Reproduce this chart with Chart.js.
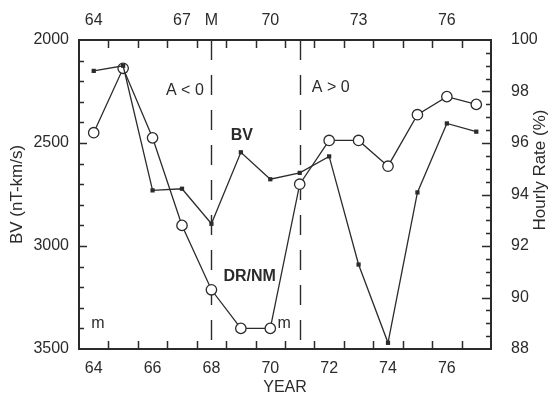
<!DOCTYPE html>
<html lang="en">
<head>
<meta charset="UTF-8">
<title>BV and DR/NM Hourly Rate</title>
<script src="https://cdn.jsdelivr.net/npm/chart.js"></script>
<style>
    html, body { margin: 0; padding: 0; background: #fff; }
    #wrap { width: 548px; height: 394px; }
</style>
</head>
<body>
<div id="wrap"><canvas id="myChart" width="548" height="394"></canvas></div>
<script>
    // values
    const years = [64, 65, 66, 67, 68, 69, 70, 71, 72, 73, 74, 75, 76, 77];
    const bvValues = [2150, 2125, 2730, 2722, 2892, 2545, 2676, 2645, 2565, 3090, 3470, 2740, 2405, 2445];
    const hourlyRate = [96.4, 98.9, 96.2, 92.8, 90.3, 88.8, 88.8, 94.4, 96.1, 96.1, 95.1, 97.1, 97.8, 97.5];

    const bottomTicks = [64, 66, 68, 70, 72, 74, 76];
    const topTicks = [64, 67, 68, 70, 73, 76];
    const topTickText = ['64', '67', 'M', '70', '73', '76'];
    const leftTicks = [2000, 2500, 3000, 3500];
    const rightTicks = [88, 90, 92, 94, 96, 98, 100];
    const boundaryYears = [68, 71];

    const ink = '#2b2b2b';
    const fontFamily = '"Liberation Sans", Arial, sans-serif';
    const tickFont = { family: fontFamily, size: 16 };

    // small inward tick marks, dashed boundaries, notes and axis titles
    const decorations = {
        id: 'decorations',
        beforeDatasetsDraw(chart) {
            const ctx = chart.ctx;
            const a = chart.chartArea;
            const x = chart.scales.x;
            ctx.save();
            ctx.strokeStyle = ink;
            ctx.lineWidth = 1.4;
            ctx.setLineDash([20, 15]);
            boundaryYears.forEach(yr => {
                const px = Math.round(x.getPixelForValue(yr)) + 0.5;
                ctx.beginPath();
                ctx.moveTo(px, a.top);
                ctx.lineTo(px, a.bottom);
                ctx.stroke();
            });
            ctx.restore();
        },
        afterDraw(chart) {
            const ctx = chart.ctx;
            const a = chart.chartArea;
            const x = chart.scales.x;
            const y = chart.scales.y;
            const y2 = chart.scales.y2;
            ctx.save();
            ctx.strokeStyle = ink;
            ctx.lineWidth = 1.5;
            ctx.beginPath();
            for (let v = 64.5; v < 77.5; v += 1) {
                const px = Math.round(x.getPixelForValue(v)) + 0.5;
                ctx.moveTo(px, a.bottom);
                ctx.lineTo(px, a.bottom - 8);
                ctx.moveTo(px, a.top);
                ctx.lineTo(px, a.top + 8);
            }
            for (let v = 2100; v < 3500; v += 100) {
                const py = Math.round(y.getPixelForValue(v)) + 0.5;
                ctx.moveTo(a.left, py);
                ctx.lineTo(a.left + (v % 500 === 0 ? 8 : 5), py);
            }
            for (let v = 88.5; v < 100; v += 0.5) {
                const py = Math.round(y2.getPixelForValue(v)) + 0.5;
                ctx.moveTo(a.right, py);
                ctx.lineTo(a.right - (v % 2 === 0 ? 9 : 5), py);
            }
            ctx.stroke();

            ctx.fillStyle = ink;
            ctx.textBaseline = 'middle';
            const notes = [
                { text: 'A < 0', yr: 67.74, v: 2248, align: 'right', bold: false },
                { text: 'A > 0', yr: 71.41, v: 2231, align: 'left', bold: false },
                { text: 'BV', yr: 69.03, v: 2466, align: 'center', bold: true },
                { text: 'DR/NM', yr: 69.3, v: 3149, align: 'center', bold: true },
                { text: 'm', yr: 64.14, v: 3379, align: 'center', bold: false },
                { text: 'm', yr: 70.47, v: 3379, align: 'center', bold: false }
            ];
            notes.forEach(n => {
                ctx.font = (n.bold ? 'bold ' : '') + '16px ' + fontFamily;
                ctx.textAlign = n.align;
                ctx.fillText(n.text, x.getPixelForValue(n.yr), y.getPixelForValue(n.v));
            });

            ctx.font = '16px ' + fontFamily;
            ctx.textAlign = 'center';
            ctx.fillText('YEAR', (a.left + a.right) / 2, 388);

            ctx.font = '17px ' + fontFamily;
            ctx.translate(17, (a.top + a.bottom) / 2);
            ctx.rotate(-Math.PI / 2);
            ctx.fillText('BV (nT-km/s)', 0, 0);
            ctx.setTransform(1, 0, 0, 1, 0, 0);
            ctx.translate(540, 170);
            ctx.rotate(-Math.PI / 2);
            ctx.fillText('Hourly Rate (%)', 0, 0);
            ctx.restore();
        }
    };

    function axisBase(extra) {
        return Object.assign({
            type: 'linear',
            grid: { display: false, drawTicks: false, tickLength: 0 },
            border: { display: true, width: 2, color: ink },
            title: { display: false }
        }, extra);
    }

    const plain = v => String(v);

    const ctx = document.getElementById('myChart').getContext('2d');
    const myChart = new Chart(ctx, {
        type: 'line',
        data: {
            datasets: [{
                label: 'BV',
                data: years.map((yr, i) => ({ x: yr, y: bvValues[i] })),
                xAxisID: 'x',
                yAxisID: 'y',
                borderColor: ink,
                borderWidth: 1.3,
                pointStyle: 'rect',
                pointRadius: 3,
                pointBackgroundColor: ink,
                pointBorderWidth: 0,
                tension: 0,
                order: 0
            }, {
                label: 'DR/NM',
                data: years.map((yr, i) => ({ x: yr, y: hourlyRate[i] })),
                xAxisID: 'x',
                yAxisID: 'y2',
                borderColor: ink,
                borderWidth: 1.3,
                pointStyle: 'circle',
                pointRadius: 5.2,
                pointBackgroundColor: '#fff',
                pointBorderColor: ink,
                pointBorderWidth: 1.3,
                tension: 0,
                order: 1
            }]
        },
        options: {
            responsive: false,
            animation: false,
            layout: { padding: 0 },
            plugins: { legend: { display: false }, tooltip: { enabled: false } },
            scales: {
                x: axisBase({
                    position: 'bottom', min: 63.5, max: 77.5,
                    afterBuildTicks: s => { s.ticks = bottomTicks.map(v => ({ value: v })); },
                    afterFit: s => { s.height = 45; },
                    ticks: { font: tickFont, color: ink, padding: 10, maxRotation: 0, autoSkip: false, callback: plain }
                }),
                x2: axisBase({
                    position: 'top', min: 63.5, max: 77.5,
                    afterBuildTicks: s => { s.ticks = topTicks.map(v => ({ value: v })); },
                    afterFit: s => { s.height = 40; },
                    ticks: {
                        font: tickFont, color: ink, padding: 10, maxRotation: 0, autoSkip: false,
                        callback: v => topTickText[topTicks.indexOf(v)]
                    }
                }),
                y: axisBase({
                    position: 'left', min: 2000, max: 3500, reverse: true,
                    afterBuildTicks: s => { s.ticks = leftTicks.map(v => ({ value: v })); },
                    afterFit: s => { s.width = 79; },
                    ticks: { font: tickFont, color: ink, padding: 10, callback: plain }
                }),
                y2: axisBase({
                    position: 'right', min: 88, max: 100,
                    afterBuildTicks: s => { s.ticks = rightTicks.map(v => ({ value: v })); },
                    afterFit: s => { s.width = 57; },
                    ticks: { font: tickFont, color: ink, padding: 20, callback: plain }
                })
            }
        },
        plugins: [decorations]
    });
</script>
</body>
</html>
